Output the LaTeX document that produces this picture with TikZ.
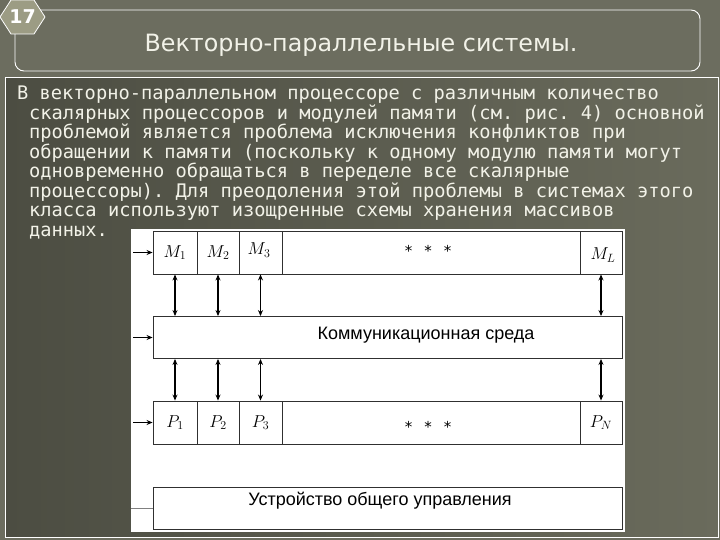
\documentclass[tikz,border=0pt]{standalone}
\usepackage{fontspec}
\setmainfont{DejaVu Sans}
\setmonofont{DejaVu Sans Mono}
\newfontfamily\diafont{Liberation Sans}
\usetikzlibrary{arrows.meta}
\definecolor{bg}{HTML}{6C6D5F}
\definecolor{panelL}{HTML}{4C4D42}
\definecolor{panelR}{HTML}{6A6B5C}
\definecolor{hexfill}{HTML}{9C9C84}
\definecolor{txt}{HTML}{F2F2E8}
\definecolor{boxline}{HTML}{303030}
\tikzset{
  bodyline/.style={anchor=base west, inner sep=0, text=txt, font=\ttfamily\fontsize{18.7}{20}\selectfont},
  cell/.style={draw=boxline, line width=0.9pt, fill=white, inner sep=0, minimum height=43pt, font=\fontsize{17}{17}\selectfont},
  bigbox/.style={draw=boxline, line width=0.9pt, fill=white, inner sep=0, minimum height=42pt, minimum width=469pt},
  dbl/.style={{Stealth[length=6pt,width=5pt]}-{Stealth[length=6pt,width=5pt]}, line width=1.1pt, black},
  feed/.style={-{Stealth[length=6pt,width=5pt]}, line width=0.9pt, black},
  dia/.style={inner sep=0, font=\diafont\fontsize{18}{18}\selectfont},
  stars/.style={inner sep=0, font=\fontsize{15}{15}\selectfont}
}
\begin{document}
\begin{tikzpicture}[x=1pt,y=-1pt]
\useasboundingbox (0,0) rectangle (720,540);
\fill[bg] (0,0) rectangle (720,540);
% content panel
\shade[left color=panelL, right color=panelR] (5,78) rectangle (718,537);
\draw[white, line width=1pt] (5,78) rectangle (718,537);
% title frame
\draw[white, line width=0.9pt, rounded corners=9pt] (15,10) rectangle (700,71);
\fill[hexfill] (0,17) -- (11,0) -- (34,0) -- (45,17) -- (34,34) -- (11,34) -- cycle;
\draw[white, line width=0.8pt] (0,17) -- (11,0) -- (34,0) -- (45,17) -- (34,34) -- (11,34) -- cycle;
\node[text=white, font=\bfseries\fontsize{19}{19}\selectfont, inner sep=0] (num) at (22.5,17) {17};
\node[anchor=base, text=txt, inner sep=0, font=\fontsize{23.8}{24}\selectfont] (title) at (361,52) {Векторно-параллельные системы.};
% body text
\node[bodyline] (l1) at (17,100) {В векторно-параллельном процессоре с различным количество};
\node[bodyline] (l2) at (29,119.5) {скалярных процессоров и модулей памяти (см. рис. 4) основной};
\node[bodyline] (l3) at (29,139) {проблемой является проблема исключения конфликтов при};
\node[bodyline] (l4) at (29,158.5) {обращении к памяти (поскольку к одному модулю памяти могут};
\node[bodyline] (l5) at (29,178) {одновременно обращаться в переделе все скалярные};
\node[bodyline] (l6) at (29,197.5) {процессоры). Для преодоления этой проблемы в системах этого};
\node[bodyline] (l7) at (29,217) {класса используют изощренные схемы хранения массивов};
\node[bodyline] (l8) at (29,236.5) {данных.};
% diagram picture
\fill[white] (131,229) rectangle (625,532);
% memory row
\node[cell, minimum width=44pt] (m1) at (175,252.5) {$M_1$};
\node[cell, minimum width=42pt] (m2) at (218,252.5) {$M_2$};
\node[cell, minimum width=43pt] (m3) at (260.5,252.5) {};
\node[cell, minimum width=298pt] (md) at (431,252.5) {};
\node[cell, minimum width=42pt] (mL) at (601,252.5) {};
\node[inner sep=0, font=\fontsize{17}{17}\selectfont] (m3t) at (259,250) {$M_3$};
\node[inner sep=0, font=\fontsize{17}{17}\selectfont] (mLt) at (603,255) {$M_L$};
\node[stars] (ms) at (428,251) {*\hspace{12pt}*\hspace{12pt}*};
% communication
\node[bigbox] (comm) at (387.5,337.5) {};
\node[dia] (commt) at (426,335) {Коммуникационная среда};
% processor row
\node[cell, minimum width=44pt] (p1) at (175,422.5) {$P_1$};
\node[cell, minimum width=42pt] (p2) at (218,422.5) {$P_2$};
\node[cell, minimum width=43pt] (p3) at (260.5,422.5) {$P_3$};
\node[cell, minimum width=298pt] (pd) at (431,422.5) {};
\node[cell, minimum width=42pt] (pN) at (601,422.5) {$P_N$};
\node[stars] (ps) at (428,427) {*\hspace{12pt}*\hspace{12pt}*};
% control
\node[bigbox] (ctrl) at (387.5,508) {};
\node[dia] (ctrlt) at (380,501) {Устройство общего управления};
% vertical double arrows
\foreach \c in {m1,m2,m3,mL} \draw[dbl] (\c.south) -- (\c.south |- comm.north);
\foreach \c in {p1,p2,p3,pN} \draw[dbl] (\c.north |- comm.south) -- (\c.north);
% feeds from the left
\coordinate (fm) at (133,252.5);
\coordinate (fc) at (133,337.5);
\coordinate (fp) at (133,422.5);
\coordinate (fu) at (131,508);
\draw[feed] (fm) -- (m1.west);
\draw[feed] (fc) -- (comm.west);
\draw[feed] (fp) -- (p1.west);
\draw[line width=0.9pt, gray] (fu) -- (ctrl.west);
\end{tikzpicture}
\end{document}
